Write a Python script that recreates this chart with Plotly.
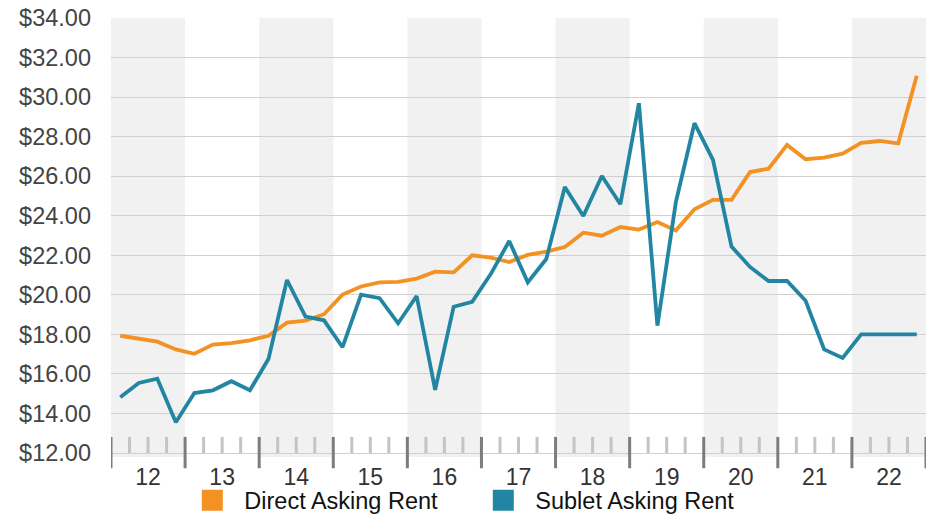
import plotly.graph_objects as go

# ─── Datos: renta trimestral 2012 T1 .. 2022 T4 ─────────────────────────────

YEARS = ["12", "13", "14", "15", "16", "17", "18", "19", "20", "21", "22"]
QUARTERS_PER_YEAR = 4

DIRECT_RENT = [
    17.93, 17.77, 17.63, 17.24, 17.02, 17.48, 17.56, 17.70,
    17.93, 18.59, 18.69, 19.02, 20.01, 20.42, 20.63, 20.65,
    20.82, 21.17, 21.14, 22.00, 21.88, 21.66, 22.02, 22.18,
    22.42, 23.14, 22.99, 23.43, 23.30, 23.68, 23.26, 24.33,
    24.80, 24.80, 26.21, 26.38, 27.58, 26.86, 26.94, 27.14,
    27.68, 27.78, 27.66, 31.08,
]

SUBLET_RENT = [
    14.82, 15.54, 15.76, 13.55, 15.03, 15.17, 15.63, 15.17,
    16.75, 20.75, 18.90, 18.71, 17.35, 20.01, 19.83, 18.56,
    19.94, 15.19, 19.40, 19.65, 21.05, 22.72, 20.63, 21.81,
    25.45, 23.99, 26.01, 24.58, 29.69, 18.44, 24.71, 28.68,
    26.82, 22.44, 21.41, 20.70, 20.70, 19.70, 17.24, 16.81,
    18.00, 18.00, 18.00, 18.00,
]

ORANGE = "#F39122"
TEAL = "#2286A3"
FONT = "Liberation Sans, Arial, sans-serif"

n = len(DIRECT_RENT)
x = list(range(n))

fig = go.Figure()

for name, values, color in [
    ("Direct Asking Rent", DIRECT_RENT, ORANGE),
    ("Sublet Asking Rent", SUBLET_RENT, TEAL),
]:
    fig.add_trace(go.Scatter(
        x=x, y=values, mode="lines", name=name,
        line=dict(color=color, width=3.8),
        showlegend=False,
        hovertemplate=f"<b>{name}</b><br>$%{{y:.2f}}<extra></extra>",
    ))
    # cuadrado de leyenda
    fig.add_trace(go.Scatter(
        x=[None], y=[None], mode="markers", name=name,
        marker=dict(symbol="square", size=16, color=color,
                    line=dict(color=color, width=5)),
        showlegend=True,
    ))

# ─── Bandas grises por año alterno y marcas del eje ─────────────────────────

shapes = []
for i, yr in enumerate(YEARS):
    start = i * QUARTERS_PER_YEAR - 0.5
    if i % 2 == 0:
        shapes.append(dict(
            type="rect", xref="x", yref="paper",
            x0=start, x1=start + QUARTERS_PER_YEAR, y0=-0.009, y1=1,
            fillcolor="#f1f1f1", line_width=0, layer="below",
        ))
    for j in range(1, QUARTERS_PER_YEAR):
        shapes.append(dict(
            type="line", xref="x", yref="paper",
            x0=start + j, x1=start + j, y0=0, y1=0.037,
            line=dict(color="#c4c4c4", width=3), layer="above",
        ))

for k in range(len(YEARS) + 1):
    b = k * QUARTERS_PER_YEAR - 0.5
    shapes.append(dict(
        type="line", xref="x", yref="paper",
        x0=b, x1=b, y0=-0.035, y1=0.037,
        line=dict(color="#7d7d7d", width=3), layer="above",
    ))

year_centers = [i * QUARTERS_PER_YEAR + 1.5 for i in range(len(YEARS))]

fig.update_layout(
    width=937, height=516,
    margin=dict(l=111, r=11, t=18, b=63, autoexpand=False),
    plot_bgcolor="white",
    paper_bgcolor="white",
    font=dict(family=FONT, size=24, color="#444444"),
    shapes=shapes,
    xaxis=dict(
        range=[-0.5, n - 0.5],
        tickvals=year_centers, ticktext=YEARS,
        ticks="outside", ticklen=3, tickcolor="rgba(0,0,0,0)",
        showgrid=False, zeroline=False,
        showline=True, linecolor="#d0d0d0", linewidth=1,
        tickfont=dict(size=23, color="#333333"),
    ),
    yaxis=dict(
        range=[12, 34], dtick=2, tick0=12,
        tickprefix="$", tickformat=".2f",
        showgrid=True, gridcolor="#d0d0d0", gridwidth=1,
        zeroline=False, ticks="", ticklabelstandoff=19,
        tickfont=dict(size=23.5, color="#444444"),
    ),
    legend=dict(
        orientation="h",
        xref="container", yref="container",
        x=0.503, xanchor="center", y=0.03, yanchor="middle",
        itemwidth=54, entrywidth=222, entrywidthmode="pixels",
        font=dict(size=23.5, color="#111111"),
        bgcolor="rgba(0,0,0,0)",
    ),
    hovermode="x unified",
)

fig.write_html(
    "out.html",
    config={"displayModeBar": False},
    post_script="document.body.style.margin='0';",
)
